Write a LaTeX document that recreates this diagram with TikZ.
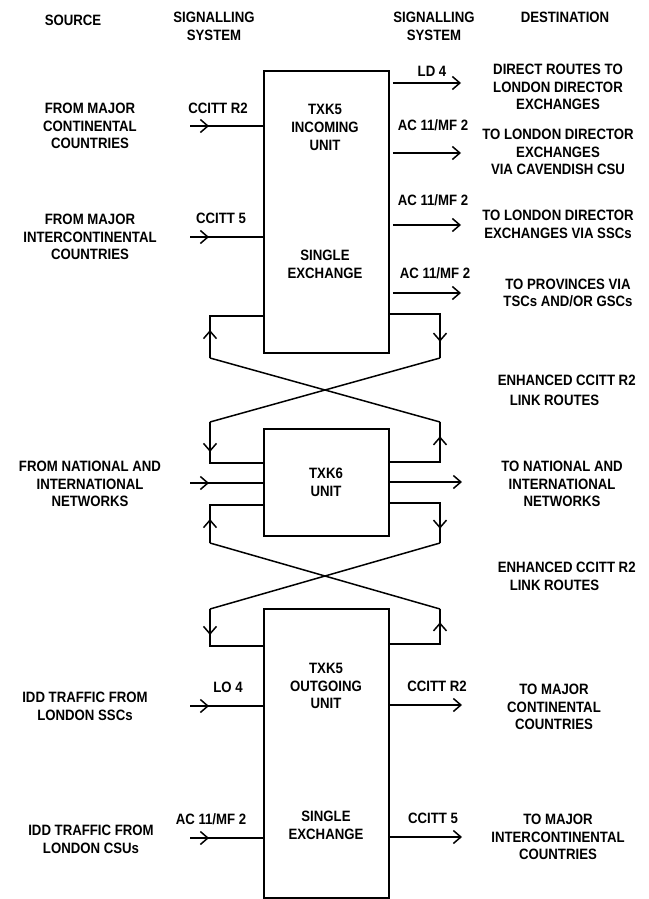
\documentclass[tikz,border=0pt]{standalone}
\usepackage{fontspec}
\setmainfont{Liberation Sans}[FakeStretch=0.88]
\usetikzlibrary{arrows.meta,decorations.markings}

\begin{document}
\begin{tikzpicture}[x=1pt,y=-1pt,
  line width=1.5pt,
  >={Straight Barb[length=7.5pt,width=13pt]},
  lbl/.style={font=\bfseries\fontsize{15}{17.8}\selectfont, align=center, inner sep=0pt},
  unitbox/.style={draw, line width=1.5pt, inner sep=0pt, minimum width=125pt},
  flowmark/.style={postaction={decorate},
    decoration={markings, mark=at position #1 with {\arrow{>}}}},
  inarrow/.style={flowmark=19pt},
  outarrow/.style={->},
]
\useasboundingbox (0,0) rectangle (648,899);
\fill[white] (0,0) rectangle (648,899);

% ---- column headings
\node[lbl] (hsrc)  at (73,20)    {SOURCE};
\node[lbl] (hsig1) at (214,26.5) {SIGNALLING\\SYSTEM};
\node[lbl] (hsig2) at (434,26.5) {SIGNALLING\\SYSTEM};
\node[lbl] (hdst)  at (565,17)   {DESTINATION};

% ---- exchange units
\node[unitbox, minimum height=282pt] (tb) at (326.5,212)   {};
\node[unitbox, minimum height=107pt] (mb) at (326.5,482.5) {};
\node[unitbox, minimum height=289pt] (bb) at (326.5,753.5) {};

\node[lbl] (tbt1) at (325,127.5) {TXK5\\INCOMING\\UNIT};
\node[lbl] (tbt2) at (325,264)   {SINGLE\\EXCHANGE};
\node[lbl] (mbt)  at (326,482.5) {TXK6\\UNIT};
\node[lbl] (bbt1) at (326,686)   {TXK5\\OUTGOING\\UNIT};
\node[lbl] (bbt2) at (326,825)   {SINGLE\\EXCHANGE};

% ---- incoming unit: sources
\node[lbl] (s1) at (90,126)  {FROM MAJOR\\CONTINENTAL\\COUNTRIES};
\node[lbl] (g1) at (218,108) {CCITT R2};
\coordinate (i1) at (190,126);
\draw[inarrow] (i1) -- (i1 -| tb.west);

\node[lbl] (s2) at (90,237)  {FROM MAJOR\\INTERCONTINENTAL\\COUNTRIES};
\node[lbl] (g2) at (221,218) {CCITT 5};
\coordinate (i2) at (190,237);
\draw[inarrow] (i2) -- (i2 -| tb.west);

% ---- incoming unit: destinations
\node[lbl] (r1) at (432,71)  {LD 4};
\coordinate (o1) at (461,83);
\draw[outarrow, shorten <=3pt] (o1 -| tb.east) -- (o1);
\node[lbl] (d1) at (558,87)  {DIRECT ROUTES TO\\LONDON DIRECTOR\\EXCHANGES};

\node[lbl] (r2) at (433,125) {AC 11/MF 2};
\coordinate (o2) at (461,153);
\draw[outarrow, shorten <=3pt] (o2 -| tb.east) -- (o2);
\node[lbl] (d2) at (558,152) {TO LONDON DIRECTOR\\EXCHANGES\\VIA CAVENDISH CSU};

\node[lbl] (r3) at (433,200) {AC 11/MF 2};
\coordinate (o3) at (461,225);
\draw[outarrow, shorten <=3pt] (o3 -| tb.east) -- (o3);
\node[lbl] (d3) at (558,224) {TO LONDON DIRECTOR\\EXCHANGES VIA SSCs};

\node[lbl] (r4) at (435,273) {AC 11/MF 2};
\coordinate (o4) at (461,293);
\draw[outarrow, shorten <=3pt] (o4 -| tb.east) -- (o4);
\node[lbl] (d4) at (568,293) {TO PROVINCES VIA\\TSCs AND/OR GSCs};

% ---- upper link routes
\coordinate (xa) at (210,358);
\coordinate (xb) at (440,358);
\coordinate (xc) at (210,422);
\coordinate (xd) at (440,422);
\coordinate (la) at (210,316);
\coordinate (ra) at (440,314);
\draw[flowmark=28pt] (xa) -- (la) -- (la -| tb.west);
\draw[flowmark=78pt] (ra -| tb.east) -- (ra) -- (xb);
\draw (xb) -- (xc);
\draw (xd) -- (xa);
\node[lbl, anchor=west] (e1a) at (497,380) {ENHANCED CCITT R2};
\node[lbl, anchor=west] (e1b) at (509,400) {LINK ROUTES};

% ---- TXK6 unit
\coordinate (lb) at (210,463);
\coordinate (rb) at (440,462);
\draw[flowmark=30pt] (xc) -- (lb) -- (lb -| mb.west);
\draw[flowmark=76pt] (rb -| mb.east) -- (rb) -- (xd);

\node[lbl] (s3) at (90,484) {FROM NATIONAL AND\\INTERNATIONAL\\NETWORKS};
\coordinate (i3) at (190,483);
\draw[inarrow] (i3) -- (i3 -| mb.west);
\coordinate (o5) at (462,482);
\draw[outarrow] (o5 -| mb.east) -- (o5);
\node[lbl] (d5) at (562,484) {TO NATIONAL AND\\INTERNATIONAL\\NETWORKS};

% ---- lower link routes
\coordinate (ya) at (210,543);
\coordinate (yb) at (440,543);
\coordinate (yc) at (210,609);
\coordinate (yd) at (440,609);
\coordinate (lc) at (210,505);
\coordinate (rc) at (440,503);
\draw[flowmark=24pt] (ya) -- (lc) -- (lc -| mb.west);
\draw[flowmark=76pt] (rc -| mb.east) -- (rc) -- (yb);
\draw (yb) -- (yc);
\draw (yd) -- (ya);
\node[lbl, anchor=west] (e2a) at (497,567) {ENHANCED CCITT R2};
\node[lbl, anchor=west] (e2b) at (509,585) {LINK ROUTES};

\coordinate (ld) at (210,646);
\coordinate (rd) at (440,644);
\draw[flowmark=26pt] (yc) -- (ld) -- (ld -| bb.west);
\draw[flowmark=72pt] (rd -| bb.east) -- (rd) -- (yd);

% ---- outgoing unit
\node[lbl] (s4) at (85,706) {IDD TRAFFIC FROM\\LONDON SSCs};
\node[lbl] (g4) at (228,687) {LO 4};
\coordinate (i4) at (190,706);
\draw[inarrow] (i4) -- (i4 -| bb.west);

\node[lbl] (s5) at (91,839) {IDD TRAFFIC FROM\\LONDON CSUs};
\node[lbl] (g5) at (211,819) {AC 11/MF 2};
\coordinate (i5) at (190,838);
\draw[inarrow] (i5) -- (i5 -| bb.west);

\node[lbl] (r6) at (437,686) {CCITT R2};
\coordinate (o6) at (462,705);
\draw[outarrow] (o6 -| bb.east) -- (o6);
\node[lbl] (d6) at (554,707) {TO MAJOR\\CONTINENTAL\\COUNTRIES};

\node[lbl] (r7) at (433,818) {CCITT 5};
\coordinate (o7) at (462,837);
\draw[outarrow] (o7 -| bb.east) -- (o7);
\node[lbl] (d7) at (558,837) {TO MAJOR\\INTERCONTINENTAL\\COUNTRIES};
\end{tikzpicture}
\end{document}
